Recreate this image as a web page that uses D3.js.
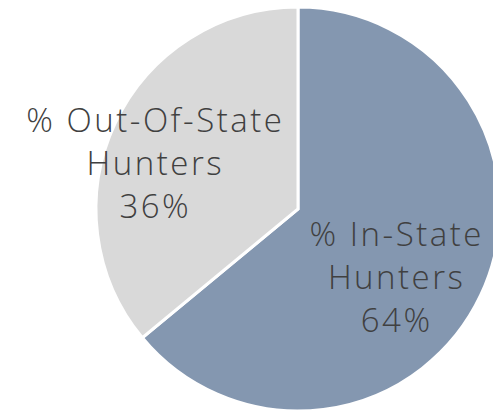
<!DOCTYPE html>
<html>
<head>
<meta charset="utf-8">
<script src="https://cdn.jsdelivr.net/npm/d3@7"></script>
<style>
  body { margin: 0; background: #fff; }
  svg { display: block; }
</style>
</head>
<body>
<div id="chart"></div>
<script>
// slices, drawn clockwise from 12 o'clock
var categories = ["% In-State Hunters", "% Out-Of-State Hunters"];
var values = [64, 36];
var labelLines = [["% In-State", "Hunters", "64%"], ["% Out-Of-State", "Hunters", "36%"]];

var width = 493;
var height = 411;
var cx = 298, cy = 209;
var radius = 202;

var svg = d3.select("#chart")
  .append("svg")
  .attr("width", width)
  .attr("height", height);

var g = svg.append("g")
  .attr("transform", "translate(" + cx + "," + cy + ")");

var color = d3.scaleOrdinal()
  .domain(categories)
  .range(["#8497B0", "#D9D9D9"]);

var pie = d3.pie().sort(null).value(function(d, i) { return values[i]; });
var data_ready = pie(categories);

var arc = d3.arc().innerRadius(0).outerRadius(radius);

g.selectAll("path")
  .data(data_ready)
  .enter()
  .append("path")
  .attr("d", arc)
  .attr("fill", function(d) { return color(d.data); })
  .attr("stroke", "white")
  .style("stroke-width", "3px");

// labels sit a bit off the plain centroid, like the original
var labelArc = d3.arc().innerRadius(0).outerRadius(radius * 1.2);
var nudge = [[-11, 16], [-33, 6]];
var lineH = 43;

var labels = g.selectAll(".lbl")
  .data(data_ready)
  .enter()
  .append("text")
  .attr("class", "lbl")
  .attr("transform", function(d, i) {
    var c = labelArc.centroid(d);
    return "translate(" + (c[0] + nudge[i][0]) + "," + (c[1] + nudge[i][1]) + ")";
  })
  .style("text-anchor", "middle")
  .style("font-family", "'Open Sans', Lato, sans-serif")
  .style("font-weight", 300)
  .style("font-size", "33px")
  .style("letter-spacing", "2.5px")
  .attr("fill", "#404040");

labels.selectAll("tspan")
  .data(function(d, i) { return labelLines[i]; })
  .enter()
  .append("tspan")
  .attr("x", 0)
  .attr("y", function(d, j) { return (j - 1) * lineH + 12; })
  .text(function(d) { return d; });

// page number, mostly cut off at the bottom
svg.append("text")
  .attr("x", 448)
  .attr("y", 435)
  .style("text-anchor", "middle")
  .style("font-family", "'Open Sans', sans-serif")
  .style("font-weight", 300)
  .style("font-size", "33px")
  .attr("fill", "#404040")
  .text("2");
</script>
</body>
</html>
